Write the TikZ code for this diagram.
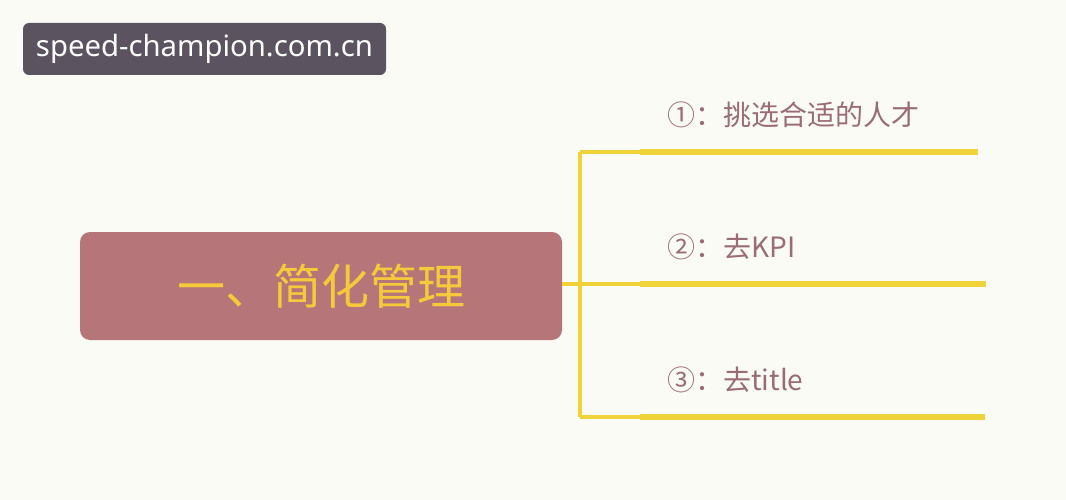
\documentclass[tikz,border=0pt]{standalone}
\usepackage{fontspec}
\setmainfont{Noto Sans CJK SC}
\newfontfamily\markfont{Noto Sans}
\usetikzlibrary{positioning}
\definecolor{bgpaper}{rgb}{0.984,0.984,0.965}
\definecolor{markgray}{rgb}{0.357,0.329,0.376}
\definecolor{rosebox}{rgb}{0.714,0.463,0.475}
\definecolor{goldtxt}{rgb}{0.961,0.788,0.227}
\definecolor{branchy}{rgb}{0.941,0.827,0.220}
\definecolor{mauvetxt}{rgb}{0.608,0.420,0.467}

\begin{document}
\begin{tikzpicture}[line cap=round,line join=round,x=1pt,y=-1pt,
  mainbox/.style={fill=rosebox,rounded corners=10pt,minimum width=482pt,minimum height=108pt,text=goldtxt,font=\fontsize{48}{52}\selectfont},
  itemlabel/.style={anchor=west,text=mauvetxt,inner sep=0pt,font=\fontsize{28}{32}\selectfont},
  thinbranch/.style={draw=branchy,line width=3.5pt,line cap=butt},
  thickbranch/.style={draw=branchy,line width=6.5pt,line cap=butt}]
\useasboundingbox (0,0) rectangle (1066,500);
\fill [bgpaper] (0,0) rectangle (1066,500);
% watermark
\node [fill=markgray,rounded corners=6pt,minimum width=363pt,minimum height=52pt,text=white,font=\markfont\fontsize{29.3}{33}\selectfont] (mark) at (204.5,49) {speed-champion.com.cn};
% central box
\node [mainbox] (main) at (321,286) {一、简化管理};
% branch points
\coordinate (hub) at (580,284);
\coordinate (b1) at (580,152);
\coordinate (b3) at (580,417);
\coordinate (s1) at (640,152);
\coordinate (s2) at (640,284);
\coordinate (s3) at (640,417);
\coordinate (e1) at (978,152);
\coordinate (e2) at (986,284);
\coordinate (e3) at (985,417);
\draw [thinbranch] (main.east |- hub) -- (hub);
\draw [thinbranch] (b1) -- (b3);
\draw [thinbranch] (b1) -- (s1);
\draw [thinbranch] (hub) -- (s2);
\draw [thinbranch] (b3) -- (s3);
\draw [thickbranch] (s1) -- (e1);
\draw [thickbranch] (s2) -- (e2);
\draw [thickbranch] (s3) -- (e3);
% labels
\node [itemlabel] (lab1) at (667,115) {①：挑选合适的人才};
\node [itemlabel] (lab2) at (667,247) {②：去KPI};
\node [itemlabel] (lab3) at (667,380) {③：去title};
\end{tikzpicture}
\end{document}
